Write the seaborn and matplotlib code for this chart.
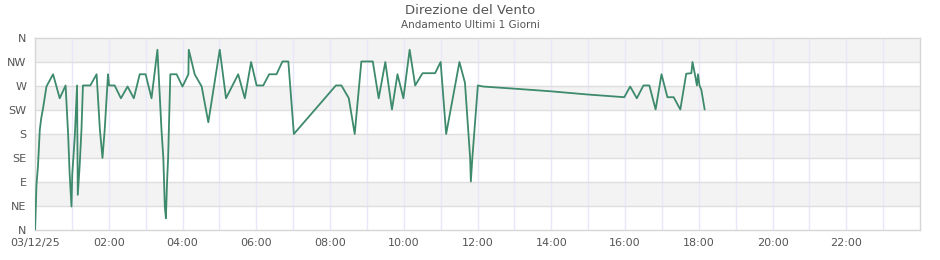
import matplotlib
matplotlib.use("Agg")
import matplotlib.pyplot as plt
import seaborn as sns
import pandas as pd

# ---- data (hours since 03/12/25 00:00, direction in degrees) ----
hours = [0.00, 0.01, 0.04, 0.08, 0.13, 0.17, 0.22, 0.31, 0.49, 0.67, 0.83, 0.90, 0.94, 0.99,
         1.01, 1.08, 1.14, 1.16, 1.21, 1.26, 1.30, 1.50, 1.67, 1.76, 1.83, 1.89, 1.98,
         2.01, 2.16, 2.33, 2.51, 2.68, 2.84, 3.00, 3.16, 3.32, 3.43, 3.48, 3.52, 3.55,
         3.58, 3.61, 3.67, 3.84, 4.00, 4.16, 4.17, 4.33, 4.52, 4.70, 5.01, 5.18, 5.51,
         5.69, 5.86, 6.01, 6.19, 6.35, 6.55, 6.71, 6.87, 7.02, 8.16, 8.31, 8.51, 8.67,
         8.85, 9.16, 9.32, 9.50, 9.68, 9.83, 9.99, 10.16, 10.31, 10.51, 10.85, 11.00,
         11.15, 11.51, 11.66, 11.80, 11.82, 11.86, 12.01, 12.15, 13.00, 14.00, 15.00,
         15.98, 16.14, 16.32, 16.50, 16.66, 16.83, 16.99, 17.15, 17.32, 17.50, 17.66,
         17.80, 17.83, 17.89, 17.95, 17.98, 18.02, 18.07, 18.16]
degrees = [0, 18, 85, 119, 188, 210, 229, 269, 292, 247, 271, 177, 104, 44,
           104, 177, 271, 66, 119, 188, 271, 271, 292, 188, 135, 188, 292,
           271, 271, 247, 269, 247, 292, 292, 247, 338, 188, 135, 44, 22,
           88, 135, 292, 292, 269, 292, 338, 292, 269, 202, 338, 247, 292,
           247, 315, 271, 271, 292, 292, 316, 316, 180, 271, 271, 247, 180,
           316, 316, 247, 315, 226, 292, 247, 338, 271, 294, 294, 315,
           180, 315, 276, 135, 91, 135, 271, 269, 265, 260, 254,
           249, 269, 247, 271, 271, 226, 292, 249, 249, 226, 293,
           294, 315, 294, 271, 292, 271, 263, 226]

dir_ticks = [0, 45, 90, 135, 180, 225, 270, 315, 360]
dir_labels = ["N", "NE", "E", "SE", "S", "SW", "W", "NW", "N"]
time_ticks = [0, 2, 4, 6, 8, 10, 12, 14, 16, 18, 20, 22]
time_labels = ["03/12/25", "02:00", "04:00", "06:00", "08:00", "10:00",
               "12:00", "14:00", "16:00", "18:00", "20:00", "22:00"]
title = "Direzione del Vento"
subtitle = "Andamento Ultimi 1 Giorni"

df = pd.DataFrame({"ora": hours, "direzione": degrees})

sns.set_theme(style="white")
plt.rcParams["font.family"] = ["DejaVu Sans"]

fig = plt.figure(figsize=(9.4, 2.6), dpi=100)
ax = fig.add_axes([35 / 940, 30 / 260, 885 / 940, 192 / 260])

# alternating bands
for i in range(len(dir_ticks) - 1):
    if i % 2 == 1:
        ax.axhspan(dir_ticks[i], dir_ticks[i + 1], color="#f3f3f3", zorder=0, lw=0)

# vertical hourly grid
for h in range(1, 24):
    ax.axvline(h, color="#e9e7fa", lw=1, zorder=1)
# horizontal grid
for d in dir_ticks[1:-1]:
    ax.axhline(d, color="#dedede", lw=1, zorder=1)

sns.lineplot(data=df, x="ora", y="direzione", ax=ax, color="#3d8a6c",
             linewidth=1.3, estimator=None, sort=False, zorder=3)

ax.set_xlim(0, 24)
ax.set_ylim(0, 360)
ax.set_xticks(time_ticks)
ax.set_xticklabels(time_labels)
ax.set_yticks(dir_ticks)
ax.set_yticklabels(dir_labels)
ax.set_xlabel("")
ax.set_ylabel("")
ax.tick_params(axis="both", labelsize=8, colors="#555555", length=0, pad=6)
for s in ax.spines.values():
    s.set_color("#d6d6d6")
    s.set_linewidth(1)

fig.text(0.5, 1 - 10 / 260, title, ha="center", va="center", fontsize=9.5, color="#555555")
fig.text(0.5, 1 - 25 / 260, subtitle, ha="center", va="center", fontsize=7.5, color="#555555")

fig.savefig("out.png", dpi=100, facecolor="white")
